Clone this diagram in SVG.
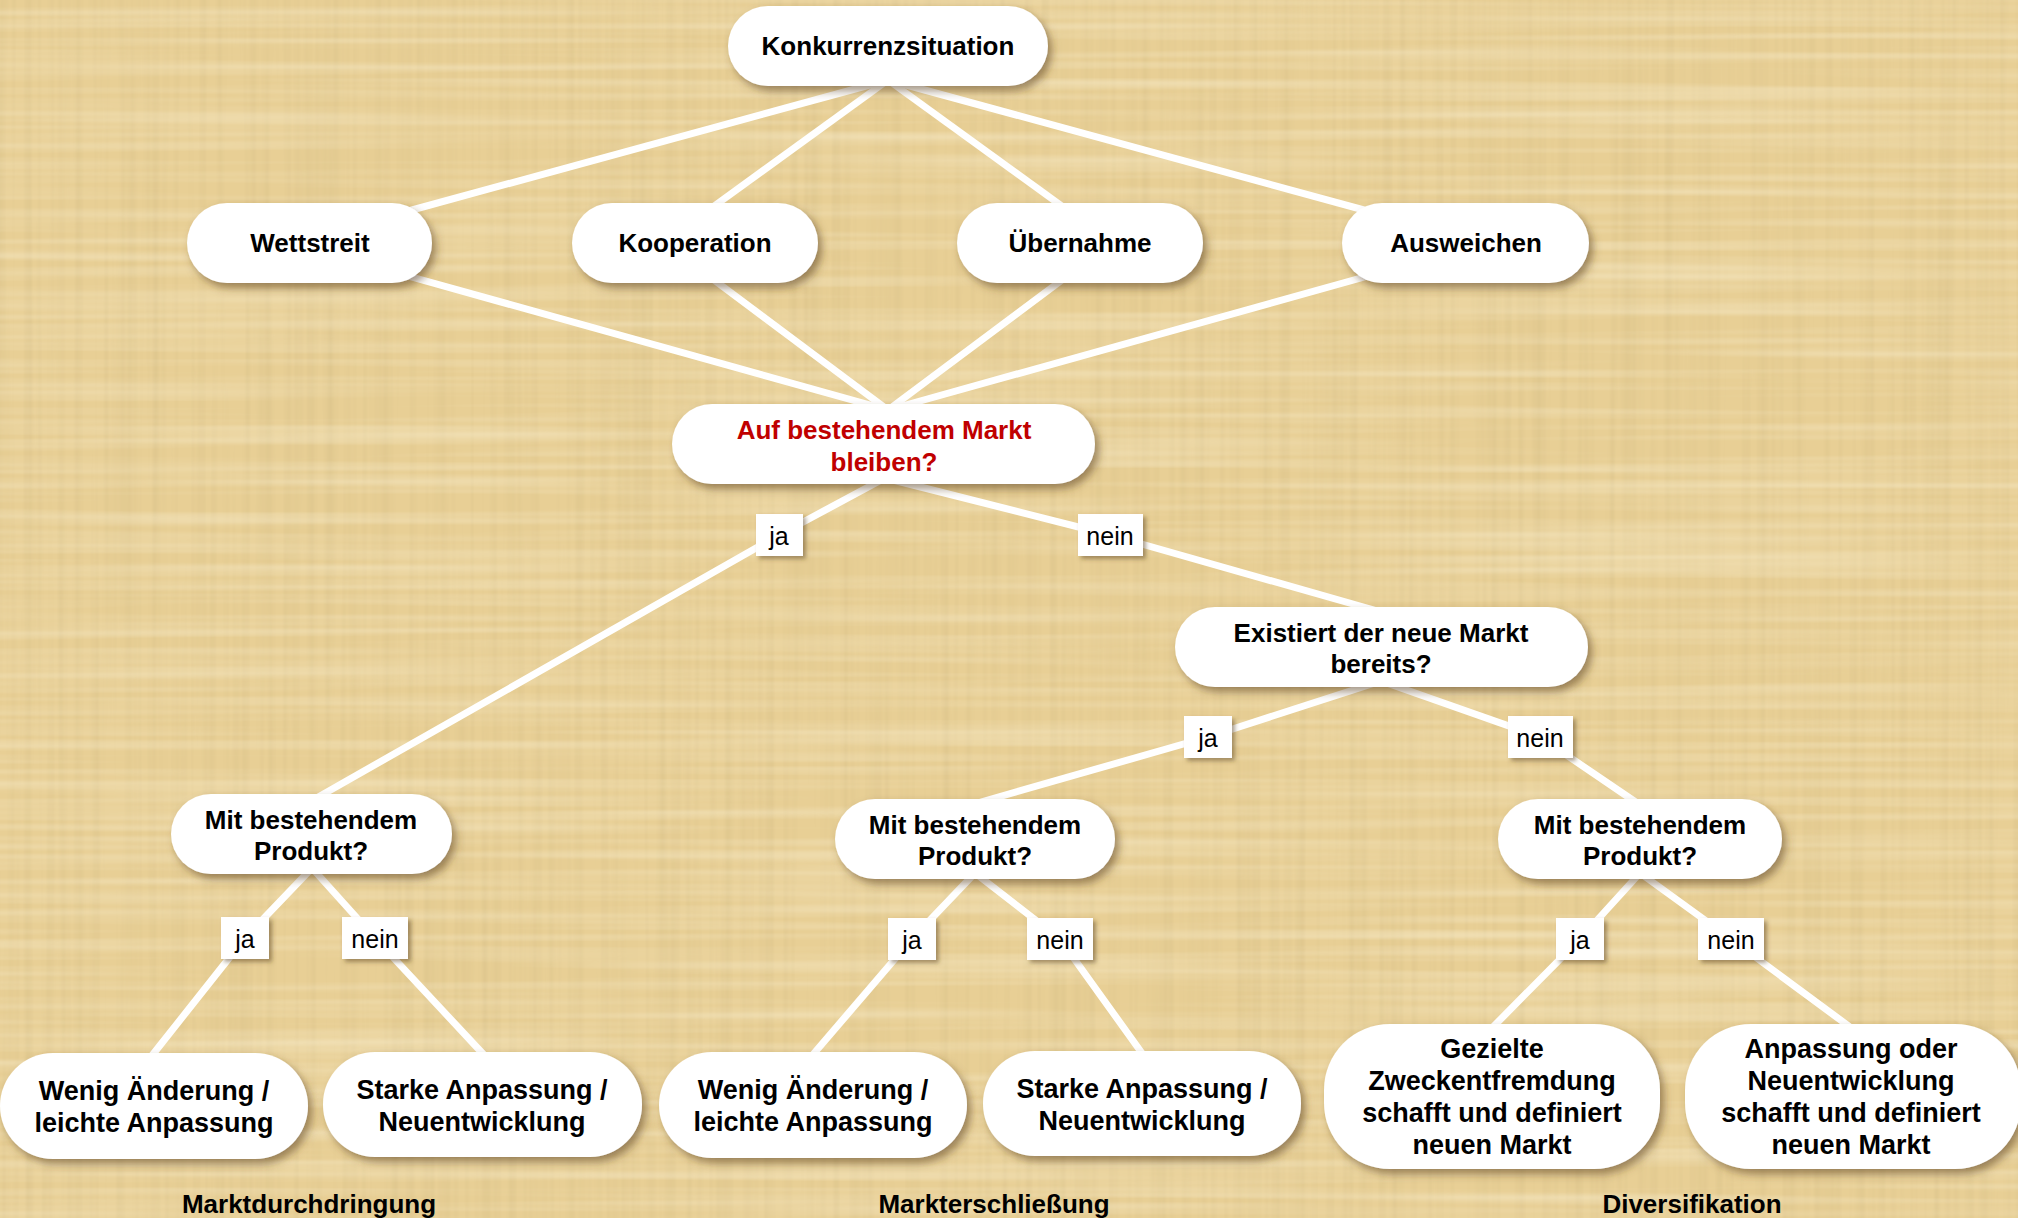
<svg xmlns="http://www.w3.org/2000/svg" width="2018" height="1218" viewBox="0 0 2018 1218">
<defs>
<style>
.node{fill:#ffffff;filter:url(#sh)}
.lbl{fill:#ffffff;filter:url(#shs)}
.t{font-family:"Liberation Sans",Arial,sans-serif;font-weight:bold;font-size:26px;fill:#000;text-anchor:middle}
.tl{font-family:"Liberation Sans",Arial,sans-serif;font-weight:bold;font-size:27px;fill:#000;text-anchor:middle}
.red{fill:#c00000}
.lt{font-family:"Liberation Sans",Arial,sans-serif;font-size:25px;fill:#000;text-anchor:middle}
.cap{font-family:"Liberation Sans",Arial,sans-serif;font-weight:bold;font-size:26px;fill:#000;text-anchor:middle}
.con{fill:none;stroke:#ffffff;stroke-width:7;stroke-linejoin:round}
</style>
<filter id="sh" x="-10%" y="-20%" width="130%" height="150%">
<feDropShadow dx="4" dy="5" stdDeviation="4" flood-color="#5a4020" flood-opacity="0.55"/>
</filter>
<filter id="shs" x="-20%" y="-20%" width="150%" height="160%">
<feDropShadow dx="3" dy="3" stdDeviation="2" flood-color="#5a4020" flood-opacity="0.5"/>
</filter>
<filter id="fibV" x="0" y="0" width="100%" height="100%">
<feTurbulence type="fractalNoise" baseFrequency="0.12 0.0015" numOctaves="2" seed="4"/>
<feColorMatrix type="matrix" values="0 0 0 0 0.62  0 0 0 0 0.48  0 0 0 0 0.22  0.7 0 0 0 -0.28"/>
</filter>
<filter id="fibH" x="0" y="0" width="100%" height="100%">
<feTurbulence type="fractalNoise" baseFrequency="0.0015 0.1" numOctaves="2" seed="9"/>
<feColorMatrix type="matrix" values="0 0 0 0 1  0 0 0 0 0.96  0 0 0 0 0.8  0.7 0 0 0 -0.27"/>
</filter>
</defs>
<g id="background">
<rect x="0" y="0" width="2018" height="1218" fill="#e8cf95"/>
<rect x="0" y="0" width="2018" height="1218" fill="#000" filter="url(#fibV)"/>
<rect x="0" y="0" width="2018" height="1218" fill="#000" filter="url(#fibH)"/>
</g>
<g id="connectors">
<line class="con" x1="888" y1="80" x2="390" y2="216"/>
<line class="con" x1="888" y1="80" x2="688" y2="225"/>
<line class="con" x1="888" y1="80" x2="1088" y2="225"/>
<line class="con" x1="888" y1="80" x2="1386" y2="216"/>
<line class="con" x1="888" y1="410" x2="390" y2="271"/>
<line class="con" x1="888" y1="410" x2="694" y2="265"/>
<line class="con" x1="888" y1="410" x2="1082" y2="265"/>
<line class="con" x1="888" y1="410" x2="1386" y2="271"/>
<polyline class="con" points="885,478 779,535 313,800"/>
<polyline class="con" points="885,478 1110,535 1381,612"/>
<polyline class="con" points="1381,681 1208,737 974,804"/>
<polyline class="con" points="1381,681 1540,737 1640,805"/>
<polyline class="con" points="312,868 245,938 150,1058"/>
<polyline class="con" points="312,868 375,938 485,1056"/>
<polyline class="con" points="975,873 912,939 810,1058"/>
<polyline class="con" points="975,873 1060,939 1144,1056"/>
<polyline class="con" points="1640,873 1580,939 1490,1030"/>
<polyline class="con" points="1640,873 1731,939 1854,1030"/>
</g>
<g id="n-konkurrenz"><rect class="node" x="728" y="6" width="320" height="80" rx="40"/><text class="t" x="888" y="55">Konkurrenzsituation</text></g>
<g id="n-wettstreit"><rect class="node" x="187" y="203" width="245" height="80" rx="40"/><text class="t" x="310" y="252">Wettstreit</text></g>
<g id="n-kooperation"><rect class="node" x="572" y="203" width="246" height="80" rx="40"/><text class="t" x="695" y="252">Kooperation</text></g>
<g id="n-uebernahme"><rect class="node" x="957" y="203" width="246" height="80" rx="40"/><text class="t" x="1080" y="252">Übernahme</text></g>
<g id="n-ausweichen"><rect class="node" x="1342" y="203" width="247" height="80" rx="40"/><text class="t" x="1466" y="252">Ausweichen</text></g>
<g id="n-markt"><rect class="node" x="672" y="404" width="423" height="80" rx="40"/><text class="t red" x="884" y="439">Auf bestehendem Markt</text><text class="t red" x="884" y="471">bleiben?</text></g>
<g id="n-existiert"><rect class="node" x="1175" y="607" width="413" height="80" rx="40"/><text class="t" x="1381" y="642">Existiert der neue Markt</text><text class="t" x="1381" y="673">bereits?</text></g>
<g id="n-produkt1"><rect class="node" x="171" y="794" width="281" height="80" rx="40"/><text class="t" x="311" y="829">Mit bestehendem</text><text class="t" x="311" y="860">Produkt?</text></g>
<g id="n-produkt2"><rect class="node" x="835" y="799" width="280" height="80" rx="40"/><text class="t" x="975" y="834">Mit bestehendem</text><text class="t" x="975" y="865">Produkt?</text></g>
<g id="n-produkt3"><rect class="node" x="1498" y="799" width="284" height="80" rx="40"/><text class="t" x="1640" y="834">Mit bestehendem</text><text class="t" x="1640" y="865">Produkt?</text></g>
<g id="n-wenig1"><rect class="node" x="0" y="1053" width="308" height="106" rx="53"/><text class="tl" x="154" y="1100">Wenig Änderung /</text><text class="tl" x="154" y="1132">leichte Anpassung</text></g>
<g id="n-starke1"><rect class="node" x="323" y="1052" width="319" height="105" rx="52"/><text class="tl" x="482" y="1099">Starke Anpassung /</text><text class="tl" x="482" y="1131">Neuentwicklung</text></g>
<g id="n-wenig2"><rect class="node" x="659" y="1052" width="308" height="106" rx="53"/><text class="tl" x="813" y="1099">Wenig Änderung /</text><text class="tl" x="813" y="1131">leichte Anpassung</text></g>
<g id="n-starke2"><rect class="node" x="983" y="1051" width="318" height="105" rx="52"/><text class="tl" x="1142" y="1098">Starke Anpassung /</text><text class="tl" x="1142" y="1130">Neuentwicklung</text></g>
<g id="n-gezielte"><rect class="node" x="1324" y="1024" width="336" height="145" rx="66"/><text class="tl" x="1492" y="1058">Gezielte</text><text class="tl" x="1492" y="1090">Zweckentfremdung</text><text class="tl" x="1492" y="1122">schafft und definiert</text><text class="tl" x="1492" y="1154">neuen Markt</text></g>
<g id="n-anpassung"><rect class="node" x="1685" y="1024" width="336" height="145" rx="66"/><text class="tl" x="1851" y="1058">Anpassung oder</text><text class="tl" x="1851" y="1090">Neuentwicklung</text><text class="tl" x="1851" y="1122">schafft und definiert</text><text class="tl" x="1851" y="1154">neuen Markt</text></g>
<g id="labels">
<rect class="lbl" x="756" y="514" width="47" height="42"/><text class="lt" x="779" y="545">ja</text>
<rect class="lbl" x="1078" y="514" width="65" height="42"/><text class="lt" x="1110" y="545">nein</text>
<rect class="lbl" x="1184" y="716" width="48" height="42"/><text class="lt" x="1208" y="747">ja</text>
<rect class="lbl" x="1508" y="716" width="65" height="42"/><text class="lt" x="1540" y="747">nein</text>
<rect class="lbl" x="221" y="917" width="48" height="42"/><text class="lt" x="245" y="948">ja</text>
<rect class="lbl" x="342" y="917" width="66" height="42"/><text class="lt" x="375" y="948">nein</text>
<rect class="lbl" x="888" y="918" width="48" height="42"/><text class="lt" x="912" y="949">ja</text>
<rect class="lbl" x="1027" y="918" width="66" height="42"/><text class="lt" x="1060" y="949">nein</text>
<rect class="lbl" x="1556" y="918" width="48" height="42"/><text class="lt" x="1580" y="949">ja</text>
<rect class="lbl" x="1698" y="918" width="66" height="42"/><text class="lt" x="1731" y="949">nein</text>
</g>
<g id="captions">
<text class="cap" x="309" y="1213">Marktdurchdringung</text>
<text class="cap" x="994" y="1213">Markterschließung</text>
<text class="cap" x="1692" y="1213">Diversifikation</text>
</g>
</svg>
